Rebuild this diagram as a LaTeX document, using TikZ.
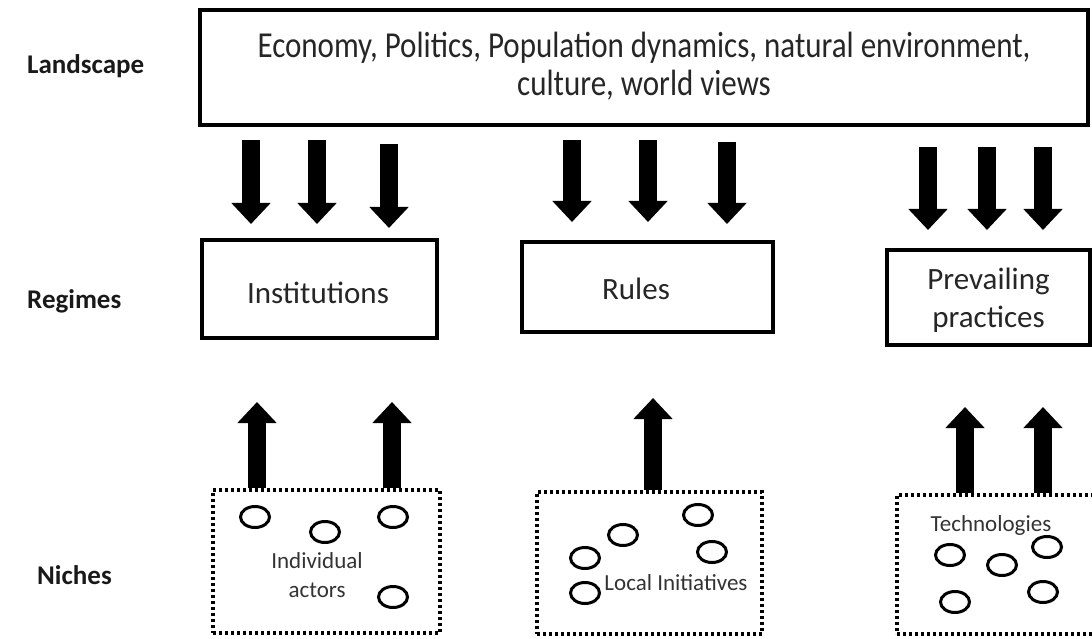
\documentclass[tikz,border=0pt]{standalone}
\usepackage{graphicx}
\usepackage{fontspec}
\setmainfont{Carlito}
\usetikzlibrary{arrows.meta,shapes.geometric}
\begin{document}
\begin{tikzpicture}[x=1pt,y=-1pt,
  lbl/.style={text=black!90, inner sep=0pt, anchor=west, font=\fontsize{27}{32}\selectfont\bfseries},
  solidbox/.style={draw, line width=3.5pt, inner sep=0pt},
  boxtxt/.style={inner sep=0pt, align=center, text=black!85, font=\fontsize{31}{38}\selectfont},
  nichebox/.style={draw, line width=3.5pt, dash pattern=on 3pt off 3pt, inner sep=0pt},
  nichetxt/.style={text=black!80, inner sep=0pt, align=center, font=\fontsize{23}{29}\selectfont},
  ell/.style={ellipse, draw, line width=3pt, minimum width=29pt, minimum height=21pt, inner sep=0pt},
  bigarrow/.style={line width=18pt, -{Triangle[width=38pt,length=21pt]}}]
\useasboundingbox (0,0) rectangle (1092,639);
% row labels
\node[lbl] (lland) at (27,66) {Landscape};
\node[lbl] (lreg) at (27,301) {Regimes};
\node[lbl] (lnic) at (37,575) {Niches};
% landscape
\node[solidbox, line width=4pt, minimum width=888pt, minimum height=115pt] (land) at (644,67.5) {};
\node[boxtxt, font=\fontsize{31}{32}\selectfont] (landt) at (644,69)
  {\scalebox{1}[1.18]{\begin{tabular}{@{}c@{}}Economy, Politics, Population dynamics, natural environment,\\culture, world views\end{tabular}}};
% regimes
\node[solidbox, minimum width=235pt, minimum height=98pt] (inst) at (319.5,289) {};
\node[boxtxt] (instt) at (318,293) {Institutions};
\node[solidbox, minimum width=251pt, minimum height=90pt] (rules) at (647.5,287) {};
\node[boxtxt] (rulest) at (636,289) {Rules};
\node[solidbox, minimum width=203pt, minimum height=95pt] (prev) at (988.5,297.5) {};
\node[boxtxt] (prevt) at (988.5,300) {Prevailing\\practices};
% niches
\node[nichebox, minimum width=227pt, minimum height=143pt] (n1) at (326.5,561.5) {};
\node[nichebox, minimum width=225pt, minimum height=142pt] (n2) at (649.5,563) {};
\node[nichebox, minimum width=203pt, minimum height=139pt] (n3) at (998.5,564.5) {};
\node[nichetxt] (t1) at (317,575) {Individual\\actors};
\node[nichetxt] (t2) at (676,583) {Local Initiatives};
\node[nichetxt] (t3) at (991,525) {Technologies};
% circles
\node[ell] (c11) at (255,517) {};
\node[ell] (c12) at (325,532) {};
\node[ell] (c13) at (393,517) {};
\node[ell] (c14) at (393,597) {};
\node[ell] (c21) at (698,515) {};
\node[ell] (c22) at (623,535) {};
\node[ell] (c23) at (712,552) {};
\node[ell] (c24) at (585,558) {};
\node[ell] (c25) at (585,593) {};
\node[ell] (c31) at (950,555) {};
\node[ell] (c32) at (1002,565) {};
\node[ell] (c33) at (1047,547) {};
\node[ell] (c34) at (955,602) {};
\node[ell] (c35) at (1043,592) {};
% down arrows
\coordinate (a1s) at (251,140); \coordinate (a1e) at (251,224);
\coordinate (a2s) at (317,140); \coordinate (a2e) at (317,224);
\coordinate (a3s) at (389,144); \coordinate (a3e) at (389,228);
\coordinate (a4s) at (572,140); \coordinate (a4e) at (572,222);
\coordinate (a5s) at (648,140); \coordinate (a5e) at (648,222);
\coordinate (a6s) at (727,142); \coordinate (a6e) at (727,224);
\coordinate (a7s) at (928,147); \coordinate (a7e) at (928,230);
\coordinate (a8s) at (987,147); \coordinate (a8e) at (987,230);
\coordinate (a9s) at (1043,147); \coordinate (a9e) at (1043,230);
\foreach \i in {1,...,9} {\draw[bigarrow] (a\i s) -- (a\i e);}
% up arrows
\coordinate (u1) at (257,402);
\coordinate (u2) at (392,402);
\coordinate (u3) at (653,398);
\coordinate (u4) at (965,407);
\coordinate (u5) at (1043,407);
\draw[bigarrow] (u1 |- n1.north) -- (u1);
\draw[bigarrow] (u2 |- n1.north) -- (u2);
\draw[bigarrow] (u3 |- n2.north) -- (u3);
\draw[bigarrow] (u4 |- n3.north) -- (u4);
\draw[bigarrow] (u5 |- n3.north) -- (u5);
\end{tikzpicture}
\end{document}
